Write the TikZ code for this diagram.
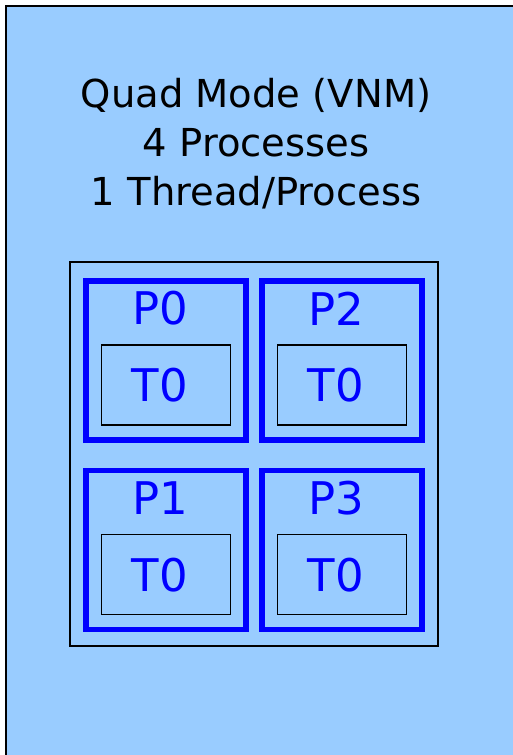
\documentclass[tikz,border=0pt]{standalone}
\usepackage{fontspec}
\setmainfont{DejaVu Sans}
\usepackage{tikz}
\usetikzlibrary{positioning}

\definecolor{bgblue}{HTML}{99CCFF}
\definecolor{procblue}{HTML}{0000FF}

\tikzset{
  frame/.style={draw=black, line width=1.2pt, minimum width=368pt, minimum height=384pt, inner sep=0pt},
  proc/.style={draw=procblue, line width=5.5pt, minimum width=160pt, minimum height=159pt, inner sep=0pt},
  thread/.style={draw=black, line width=1.6pt, minimum width=129pt, minimum height=80pt, inner sep=0pt,
    text=procblue, font=\fontsize{45}{45}\selectfont, text depth=0pt},
  plabel/.style={text=procblue, font=\fontsize{45}{45}\selectfont, inner sep=0pt, xshift=-6pt},
  title/.style={align=center, font=\fontsize{38.5}{49}\selectfont, inner sep=0pt}
}

\begin{document}
\begin{tikzpicture}[x=1pt, y=-1pt, node distance=2cm, on grid]
   \useasboundingbox (0,0) rectangle (513,755);
   \clip (0,0) rectangle (513,755);
   % panel runs off the page at the right and bottom
   \draw[fill=bgblue, line width=2.5pt] (6,6) rectangle (540,790);

   \node[title] (head) at (256,144) {Quad Mode (VNM)\\4 Processes\\1 Thread/Process};

   \node[frame] (node) at (254,454) {};

   \node[proc] (p0) at (166,360.5) {};
   \node[proc] (p2) [right=176pt of p0] {};
   \node[proc] (p1) [below=189.5pt of p0] {};
   \node[proc] (p3) [right=176pt of p1] {};

   \node[plabel] (p0l) [above=52pt of p0] {P0};
   \node[plabel] (p2l) [above=52pt of p2] {P2};
   \node[plabel] (p1l) [above=52pt of p1] {P1};
   \node[plabel] (p3l) [above=52pt of p3] {P3};

   \node[thread] (t0p0) [below=24.5pt of p0] {\hspace*{-12pt}T0};
   \node[thread] (t0p2) [below=24.5pt of p2] {\hspace*{-12pt}T0};
   \node[thread] (t0p1) [below=24.5pt of p1] {\hspace*{-12pt}T0};
   \node[thread] (t0p3) [below=24.5pt of p3] {\hspace*{-12pt}T0};
\end{tikzpicture}
\end{document}
